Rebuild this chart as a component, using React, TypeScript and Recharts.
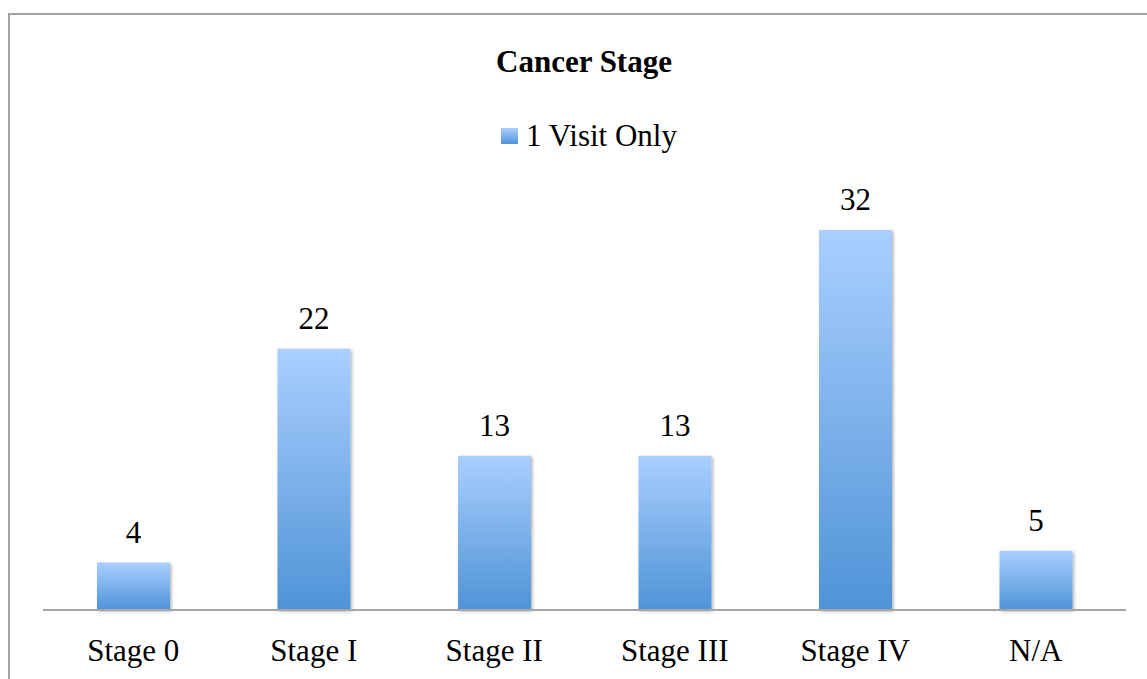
import { BarChart, Bar, XAxis, YAxis, LabelList } from 'recharts';

const stages = ['Stage 0', 'Stage I', 'Stage II', 'Stage III', 'Stage IV', 'N/A'];
const visitOnce = [4, 22, 13, 13, 32, 5];

const chartData = stages.map((stage, i) => ({ stage, visits: visitOnce[i] }));

const FONT = '"Liberation Serif", "Times New Roman", serif';

export default function App() {
    return (
        <div style={{ position: 'absolute', left: 0, top: 0, width: 1147, height: 679, background: '#fff', overflow: 'hidden' }}>
            {/* outer frame, runs off the right and bottom */}
            <div style={{ position: 'absolute', left: 8, top: 13, width: 1160, height: 700, borderTop: '2px solid #a3a3a3', borderLeft: '2px solid #a3a3a3' }} />
            <div style={{ position: 'absolute', left: 0, top: 44, width: 1168, textAlign: 'center', fontFamily: FONT, fontSize: 31, fontWeight: 'bold' }}>
                Cancer Stage
            </div>
            {/* legend */}
            <div style={{ position: 'absolute', left: 0, top: 118, width: 1178, display: 'flex', alignItems: 'center', justifyContent: 'center', fontFamily: FONT, fontSize: 31 }}>
                <span style={{ display: 'inline-block', width: 17, height: 16, marginRight: 8, background: 'linear-gradient(#aacfff, #4f93d7)' }} />
                <span>1 Visit Only</span>
            </div>
            <BarChart
                width={1147}
                height={679}
                data={chartData}
                margin={{ top: 135, right: 21, left: 43, bottom: 0 }}
                style={{ position: 'absolute', left: 0, top: 0 }}
            >
                <defs>
                    <linearGradient id="barFill" x1="0" y1="0" x2="0" y2="1">
                        <stop offset="0%" stopColor="#aacfff" />
                        <stop offset="100%" stopColor="#4f93d7" />
                    </linearGradient>
                    <filter id="barShadow" x="-20%" y="-20%" width="140%" height="140%">
                        <feDropShadow dx="1.5" dy="1.5" stdDeviation="1.5" floodColor="#000" floodOpacity="0.3" />
                    </filter>
                </defs>
                <XAxis
                    dataKey="stage"
                    height={69}
                    tickLine={false}
                    axisLine={{ stroke: '#a6a6a6', strokeWidth: 2 }}
                    tick={{ fontSize: 31, fill: '#000', fontFamily: FONT }}
                    tickMargin={23}
                    interval={0}
                />
                <YAxis hide domain={[0, 40]} />
                <Bar
                    dataKey="visits"
                    name="1 Visit Only"
                    fill="url(#barFill)"
                    barSize={73}
                    filter="url(#barShadow)"
                    isAnimationActive={false}
                >
                    <LabelList
                        dataKey="visits"
                        position="top"
                        offset={20}
                        style={{ fontSize: 31, fill: '#000', fontFamily: FONT }}
                    />
                </Bar>
            </BarChart>
        </div>
    );
}
